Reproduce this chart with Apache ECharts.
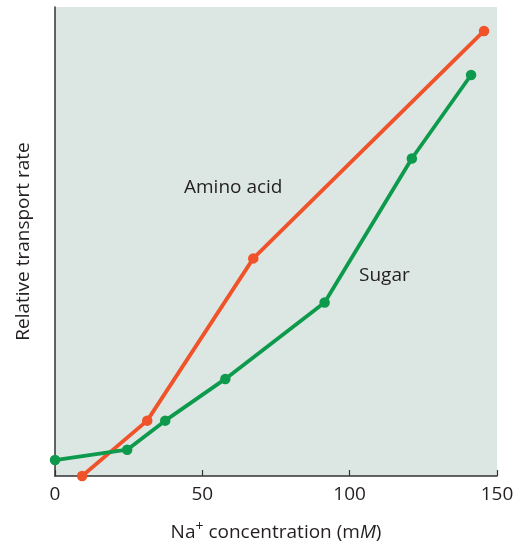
<!DOCTYPE html>
<html><head><meta charset="utf-8">
<script src="https://cdn.jsdelivr.net/npm/echarts@6/dist/echarts.min.js"></script>
<style>html,body{margin:0;padding:0;background:#fff}#c{width:522px;height:545px}</style>
</head><body><div id="c"></div>
<script>
const aminoX = [9.2, 31.3, 67.3, 145.6];
const aminoY = [0, 11.8, 46.4, 94.9];
const sugarX = [0, 24.5, 37.4, 57.8, 91.5, 121.1, 141.2];
const sugarY = [3.4, 5.6, 11.8, 20.7, 37.0, 67.7, 85.5];
const xTicks = [0, 50, 100, 150];

const chart = echarts.init(document.getElementById('c'), null, {renderer:'canvas'});
const font = '"Open Sans", "Noto Sans", sans-serif';
chart.setOption({
  animation:false,
  grid:{left:55,right:25,top:7,bottom:69,show:true,backgroundColor:'#dce6e3',borderWidth:0,
        containLabel:false,outerBoundsMode:'none'},
  xAxis:{type:'value',min:0,max:150,interval:50,
    axisLine:{lineStyle:{color:'#333',width:1.5}},
    axisTick:{inside:true,length:6,lineStyle:{color:'#333',width:1.2}},
    axisLabel:{color:'#231f20',fontSize:19,fontFamily:font,margin:9,
      formatter:v=>xTicks.includes(v)?String(v):''},
    splitLine:{show:false},
    name:'Na{sup|+} concentration (m{it|M})',nameLocation:'middle',nameGap:44,
    nameTextStyle:{color:'#231f20',fontSize:19,fontFamily:font,
      rich:{sup:{fontSize:14,verticalAlign:'top',padding:[0,0,11,0],fontFamily:font,color:'#231f20'},
            it:{fontSize:19,fontStyle:'italic',fontFamily:font,color:'#231f20'}}}
  },
  yAxis:{type:'value',min:0,max:100,
    axisLine:{show:true,lineStyle:{color:'#333',width:1.5}},
    axisTick:{show:false},axisLabel:{show:false},splitLine:{show:false},
    name:'Relative transport rate',nameLocation:'middle',nameGap:22,
    nameTextStyle:{color:'#231f20',fontSize:19,fontFamily:font}
  },
  series:[
    {type:'line',data:aminoX.map((x,i)=>[x,aminoY[i]]),color:'#f0522a',
     lineStyle:{width:3.8},symbol:'circle',symbolSize:10.5,itemStyle:{color:'#f0522a'},clip:false},
    {type:'line',data:sugarX.map((x,i)=>[x,sugarY[i]]),color:'#0e9a4c',
     lineStyle:{width:3.8},symbol:'circle',symbolSize:10.5,itemStyle:{color:'#0e9a4c'},clip:false}
  ],
  graphic:[
    {type:'text',left:184,top:178,style:{text:'Amino acid',fill:'#231f20',font:'19px '+font}},
    {type:'text',left:359,top:266,style:{text:'Sugar',fill:'#231f20',font:'19px '+font}}
  ]
});
</script></body></html>
